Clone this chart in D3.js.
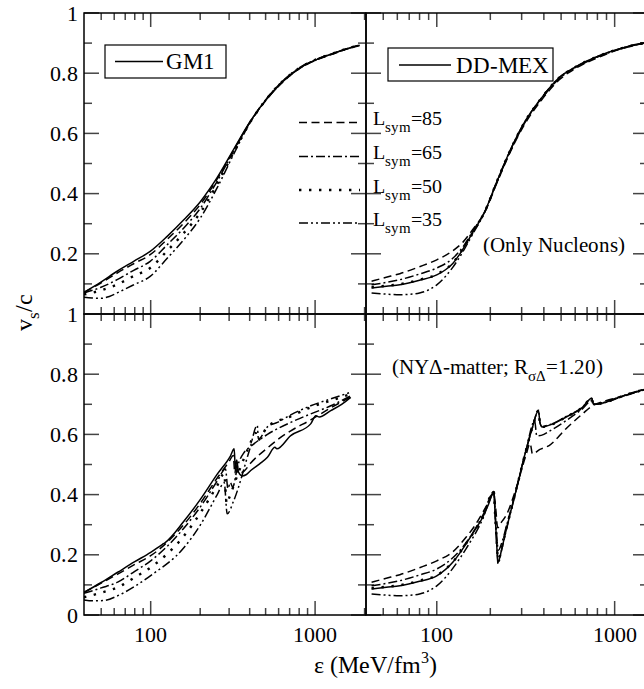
<!DOCTYPE html>
<html><head><meta charset="utf-8">
<script src="https://cdn.jsdelivr.net/npm/d3@7"></script>
<style>
@font-face{font-family:"ChartSerif";src:local("Liberation Serif"),local("LiberationSerif"),local("LiberationSerif-Regular"),local("Tinos"),local("Times New Roman");}
body{margin:0;background:#fff;}
#c text{font-family:"ChartSerif","Liberation Serif","Times New Roman",Times;}
</style></head>
<body><svg id="c" width="644" height="689"></svg>
<script>
// ---------- DATA ----------
const seriesNames = ["model", "Lsym=85", "Lsym=65", "Lsym=50", "Lsym=35"];
const lsymLabels = ["85", "65", "50", "35"];
const yMajor = [0, 0.2, 0.4, 0.6, 0.8, 1];
const yMinor = [0.1, 0.3, 0.5, 0.7, 0.9];
const xMajor = [100, 1000];
const xMinorL = [50,60,70,80,90,200,300,400,500,600,700,800,900,2000];
const xMinorR = [50,60,70,80,90,200,300,400,500,600,700,800,900];

// top-left: GM1, only nucleons
const tl_solid = [[39.3,0.072],[49.5,0.105],[62.5,0.142],[78.8,0.175],[99.3,0.208],[126,0.258],[159,0.313],[201,0.374],[253,0.452],[319,0.546],[403,0.64],[508,0.714],[640,0.773],[808,0.817],[1019,0.845],[1286,0.865],[1622,0.884],[1864,0.893]];
const tl_85 = [[39.3,0.072],[49.5,0.102],[62.5,0.136],[78.8,0.167],[99.3,0.197],[126,0.248],[159,0.302],[201,0.365],[253,0.447],[319,0.543],[403,0.638],[508,0.713],[640,0.772],[808,0.816],[1019,0.844],[1286,0.864],[1622,0.883],[1864,0.892]];
const tl_65 = [[39.3,0.07],[49.5,0.088],[62.5,0.114],[78.8,0.145],[99.3,0.175],[126,0.23],[159,0.286],[201,0.352],[253,0.44],[319,0.54],[403,0.638],[508,0.716],[640,0.775],[808,0.818],[1019,0.846],[1286,0.866],[1622,0.884],[1864,0.893]];
const tl_50 = [[39.3,0.065],[49.5,0.078],[62.5,0.098],[78.8,0.126],[99.3,0.153],[126,0.21],[159,0.269],[201,0.338],[253,0.43],[319,0.536],[403,0.637],[508,0.715],[640,0.775],[808,0.818],[1019,0.846],[1286,0.866],[1622,0.884],[1864,0.893]];
const tl_35 = [[39.3,0.056],[44,0.053],[49.5,0.052],[56,0.058],[62.5,0.07],[78.8,0.097],[99.3,0.125],[126,0.185],[159,0.247],[201,0.32],[253,0.418],[319,0.53],[403,0.636],[508,0.716],[640,0.776],[808,0.819],[1019,0.846],[1286,0.866],[1622,0.884],[1864,0.893]];

// top-right: DD-MEX, only nucleons
const tr_solid = [[43,0.086],[52,0.092],[62,0.097],[80,0.112],[100,0.13],[112,0.147],[123,0.168],[135,0.2],[159,0.27],[186,0.34],[216,0.435],[257,0.54],[310,0.635],[378,0.709],[490,0.786],[608,0.822],[820,0.858],[1013,0.877],[1200,0.89],[1531,0.903]];
const tr_85 = [[43,0.109],[52,0.122],[62,0.134],[80,0.157],[100,0.18],[123,0.21],[140,0.238],[159,0.28],[186,0.338],[216,0.43],[257,0.534],[310,0.628],[378,0.702],[490,0.779],[608,0.817],[820,0.854],[1013,0.875],[1531,0.902]];
const tr_65 = [[43,0.097],[52,0.105],[62,0.114],[80,0.133],[100,0.153],[123,0.185],[140,0.222],[159,0.274],[186,0.339],[216,0.433],[257,0.537],[310,0.632],[378,0.706],[490,0.783],[608,0.82],[820,0.856],[1013,0.876],[1531,0.902]];
const tr_50 = [[43,0.089],[52,0.094],[62,0.099],[80,0.114],[100,0.132],[123,0.17],[135,0.201],[159,0.27],[186,0.34],[216,0.435],[257,0.54],[310,0.635],[378,0.709],[490,0.786],[608,0.822],[820,0.858],[1013,0.877],[1531,0.903]];
const tr_35 = [[43,0.07],[52,0.066],[62,0.064],[72,0.066],[80,0.07],[90,0.08],[100,0.097],[112,0.125],[123,0.155],[140,0.206],[159,0.265],[186,0.338],[216,0.435],[257,0.54],[310,0.635],[378,0.709],[490,0.786],[608,0.822],[820,0.858],[1013,0.877],[1531,0.903]];

// bottom-left: GM1, NY-Delta matter
const bl_solid = [[39.3,0.075],[50,0.108],[63,0.142],[80,0.177],[100,0.208],[118,0.235],[122,0.24],[160,0.313],[201,0.385],[254,0.468],[306,0.529],[322,0.552],[327,0.49],[334,0.515],[342,0.475],[360,0.462],[380,0.466],[406,0.48],[460,0.502],[513,0.524],[570,0.557],[585,0.552],[711,0.596],[940,0.635],[1010,0.662],[1060,0.658],[1245,0.679],[1450,0.7],[1648,0.723]];
const bl_85 = [[39.3,0.075],[50,0.106],[63,0.136],[80,0.168],[100,0.197],[160,0.302],[201,0.372],[254,0.455],[300,0.51],[318,0.53],[325,0.47],[332,0.505],[340,0.47],[370,0.478],[406,0.505],[513,0.555],[600,0.585],[711,0.612],[940,0.648],[1245,0.688],[1648,0.725]];
const bl_65 = [[39.3,0.072],[50,0.09],[63,0.109],[80,0.145],[100,0.18],[160,0.29],[201,0.36],[254,0.445],[285,0.485],[295,0.42],[305,0.44],[315,0.425],[340,0.5],[370,0.54],[406,0.56],[513,0.6],[711,0.64],[940,0.668],[1245,0.695],[1648,0.728]];
const bl_50 = [[39.3,0.059],[50,0.074],[63,0.092],[80,0.125],[100,0.158],[160,0.264],[201,0.34],[254,0.43],[280,0.47],[290,0.37],[298,0.385],[340,0.47],[400,0.565],[435,0.605],[445,0.58],[513,0.625],[711,0.66],[940,0.69],[1245,0.712],[1648,0.734]];
const bl_35 = [[39.3,0.05],[45,0.047],[52,0.048],[63,0.064],[80,0.095],[100,0.131],[160,0.225],[201,0.3],[254,0.4],[280,0.44],[292,0.336],[320,0.38],[400,0.55],[445,0.63],[452,0.585],[513,0.625],[590,0.64],[711,0.665],[940,0.695],[1245,0.718],[1648,0.74]];

// bottom-right: DD-MEX, NY-Delta matter
const br_solid = [[43,0.086],[52,0.092],[62,0.097],[80,0.112],[100,0.13],[123,0.175],[146,0.236],[165,0.285],[181,0.324],[196,0.37],[209,0.41],[213,0.33],[217,0.24],[221,0.175],[232,0.22],[245,0.28],[262,0.35],[279,0.413],[297,0.48],[317,0.546],[345,0.623],[373,0.679],[380,0.64],[390,0.625],[410,0.627],[447,0.634],[531,0.657],[659,0.69],[745,0.72],[755,0.705],[775,0.70],[893,0.707],[1058,0.723],[1250,0.737],[1531,0.753]];
const br_85 = [[43,0.109],[52,0.122],[62,0.134],[80,0.157],[100,0.18],[123,0.21],[146,0.258],[165,0.3],[181,0.34],[196,0.375],[209,0.405],[214,0.36],[220,0.29],[232,0.31],[245,0.33],[279,0.42],[317,0.53],[335,0.57],[345,0.535],[380,0.55],[428,0.563],[531,0.618],[659,0.668],[750,0.695],[893,0.712],[1058,0.724],[1531,0.752]];
const br_65 = [[43,0.097],[52,0.105],[62,0.114],[80,0.133],[100,0.153],[123,0.19],[146,0.24],[181,0.33],[209,0.405],[215,0.3],[222,0.215],[232,0.24],[245,0.29],[279,0.415],[317,0.545],[355,0.645],[365,0.595],[400,0.6],[428,0.61],[531,0.645],[659,0.685],[745,0.712],[760,0.70],[893,0.707],[1058,0.722],[1531,0.751]];
const br_50 = [[43,0.089],[52,0.094],[62,0.099],[80,0.114],[100,0.132],[123,0.176],[146,0.237],[181,0.325],[209,0.41],[213,0.33],[217,0.25],[221,0.185],[232,0.225],[245,0.283],[279,0.414],[317,0.546],[345,0.623],[373,0.679],[380,0.64],[390,0.625],[447,0.634],[531,0.657],[659,0.69],[745,0.72],[755,0.705],[775,0.70],[893,0.707],[1058,0.723],[1531,0.753]];
const br_35 = [[43,0.07],[52,0.066],[62,0.064],[72,0.066],[80,0.07],[90,0.08],[100,0.097],[112,0.125],[123,0.155],[146,0.22],[181,0.318],[209,0.41],[213,0.33],[217,0.24],[221,0.17],[232,0.218],[245,0.278],[279,0.412],[317,0.546],[345,0.623],[373,0.68],[380,0.64],[390,0.627],[447,0.636],[531,0.659],[659,0.69],[745,0.72],[755,0.705],[775,0.70],[893,0.708],[1058,0.724],[1531,0.754]];

// ---------- DRAW ----------
const svg = d3.select("#c");
const styles = [
  {dash:null, w:1.5},
  {dash:"8,4.5", w:1.5},
  {dash:"9,3,2,3", w:1.5},
  {dash:"2.4,7.6", w:2.4},
  {dash:"9,3,2,3,2,3", w:1.5}
];
const xL = d3.scaleLog().domain([39.3, 2040]).range([84, 366]);
const xR = d3.scaleLog().domain([40, 1540]).range([366, 648]);
const yT = d3.scaleLinear().domain([0, 1]).range([314, 13]);
const yB = d3.scaleLinear().domain([0, 1]).range([615, 314]);

const panels = [
  {x:xL, y:yT, data:[tl_solid,tl_85,tl_65,tl_50,tl_35], minor:xMinorL, yLab:true, xLab:false, yLabVals:[0.2,0.4,0.6,0.8,1]},
  {x:xR, y:yT, data:[tr_solid,tr_85,tr_65,tr_50,tr_35], minor:xMinorR, yLab:false, xLab:false},
  {x:xL, y:yB, data:[bl_solid,bl_85,bl_65,bl_50,bl_35], minor:xMinorL, yLab:true, xLab:true, yLabVals:yMajor},
  {x:xR, y:yB, data:[br_solid,br_85,br_65,br_50,br_35], minor:xMinorR, yLab:false, xLab:true}
];
const fmtY = d => d === 0 ? "0" : d === 1 ? "1" : d.toFixed(1);
const tickCol = "#444";

// axes are drawn as plain lines/texts generated from the scales
panels.forEach((p, i) => {
  const [x0, x1] = p.x.range();
  const [yb, yt] = p.y.range();
  const clipId = "clip" + i;
  svg.append("clipPath").attr("id", clipId).append("rect")
    .attr("x", x0).attr("y", yt).attr("width", x1 - x0).attr("height", yb - yt);
  const g = svg.append("g").attr("stroke", tickCol).attr("stroke-width", 1.5);

  // x ticks (top & bottom, inward)
  const xt = p.minor.map(v => ({v, len: 7})).concat(xMajor.map(v => ({v, len: 14})));
  xt.forEach(t => {
    const X = p.x(t.v);
    g.append("line").attr("x1", X).attr("x2", X).attr("y1", yt).attr("y2", yt + t.len);
    g.append("line").attr("x1", X).attr("x2", X).attr("y1", yb).attr("y2", yb - t.len);
  });
  const ytk = yMinor.map(v => ({v, len: 8})).concat(yMajor.map(v => ({v, len: 15})));
  ytk.forEach(t => {
    const Y = p.y(t.v);
    g.append("line").attr("x1", x0).attr("x2", x0 + t.len).attr("y1", Y).attr("y2", Y);
    g.append("line").attr("x1", x1).attr("x2", x1 - t.len).attr("y1", Y).attr("y2", Y);
  });
  if (p.xLab) {
    xMajor.forEach(v => {
      svg.append("text").attr("class", "lab").attr("x", p.x(v)).attr("y", yb + 27)
        .attr("text-anchor", "middle").attr("font-size", 22).text(d3.format("d")(v));
    });
  }
  if (p.yLab) {
    p.yLabVals.forEach(v => {
      svg.append("text").attr("class", "lab").attr("x", x0 - 6).attr("y", p.y(v) + 7.5)
        .attr("text-anchor", "end").attr("font-size", 22).text(fmtY(v));
    });
  }

  const line = d3.line().x(d => p.x(d[0])).y(d => p.y(d[1])).curve(d3.curveMonotoneX);
  const cg = svg.append("g").attr("clip-path", `url(#${clipId})`);
  p.data.forEach((s, k) => {
    cg.append("path").datum(s).attr("d", line)
      .attr("fill", "none").attr("stroke", "#000")
      .attr("stroke-width", styles[k].w)
      .attr("stroke-dasharray", styles[k].dash)
      .attr("stroke-linejoin", "round")
      .attr("data-series", seriesNames[k]);
  });

  svg.append("rect").attr("x", x0).attr("y", yt).attr("width", x1 - x0).attr("height", yb - yt)
    .attr("fill", "none").attr("stroke", "#000").attr("stroke-width", 1.5);
});

function txt(x, y, size) {
  return svg.append("text").attr("x", x).attr("y", y).attr("font-size", size);
}
function legendBox(x, y, w, h, lx1, lx2, ly, tx, ty, label) {
  svg.append("rect").attr("x", x).attr("y", y).attr("width", w).attr("height", h)
    .attr("fill", "#fff").attr("stroke", "#000").attr("stroke-width", 1.2);
  svg.append("line").attr("x1", lx1).attr("x2", lx2).attr("y1", ly).attr("y2", ly)
    .attr("stroke", "#000").attr("stroke-width", 1.5);
  txt(tx, ty, 23).text(label);
}
legendBox(105, 45, 121, 33, 115, 163, 61.5, 166, 69, "GM1");
legendBox(388, 48, 165, 33, 399, 451, 65, 456, 73, "DD-MEX");

const legY = [122.5, 156.5, 190, 223];
lsymLabels.forEach((lab, k) => {
  svg.append("line").attr("x1", 299).attr("x2", 360).attr("y1", legY[k]).attr("y2", legY[k])
    .attr("stroke", "#000").attr("stroke-width", styles[k + 1].w)
    .attr("stroke-dasharray", styles[k + 1].dash);
  const t = txt(373, legY[k] + 2.5, 20);
  t.append("tspan").text("L");
  t.append("tspan").attr("font-size", 15).attr("dy", 7).text("sym");
  t.append("tspan").attr("dy", -7).text("=" + lab);
});

txt(483, 252, 21).text("(Only Nucleons)");
const ann = txt(392, 374, 21);
ann.append("tspan").text("(NYΔ-matter; R");
ann.append("tspan").attr("font-size", 15).attr("dy", 7).text("σΔ");
ann.append("tspan").attr("dy", -7).text("=1.20)");

const xtl = txt(375, 673, 24).attr("text-anchor", "middle");
xtl.append("tspan").text("ε (MeV/fm");
xtl.append("tspan").attr("font-size", 16).attr("dy", -10).text("3");
xtl.append("tspan").attr("dy", 10).text(")");

const ytl = svg.append("text").attr("transform", "translate(32,312) rotate(-90)")
  .attr("text-anchor", "middle").attr("font-size", 24);
ytl.append("tspan").text("v");
ytl.append("tspan").attr("font-size", 17).attr("dy", 7).text("s");
ytl.append("tspan").attr("dy", -7).text("/c");
</script></body></html>
